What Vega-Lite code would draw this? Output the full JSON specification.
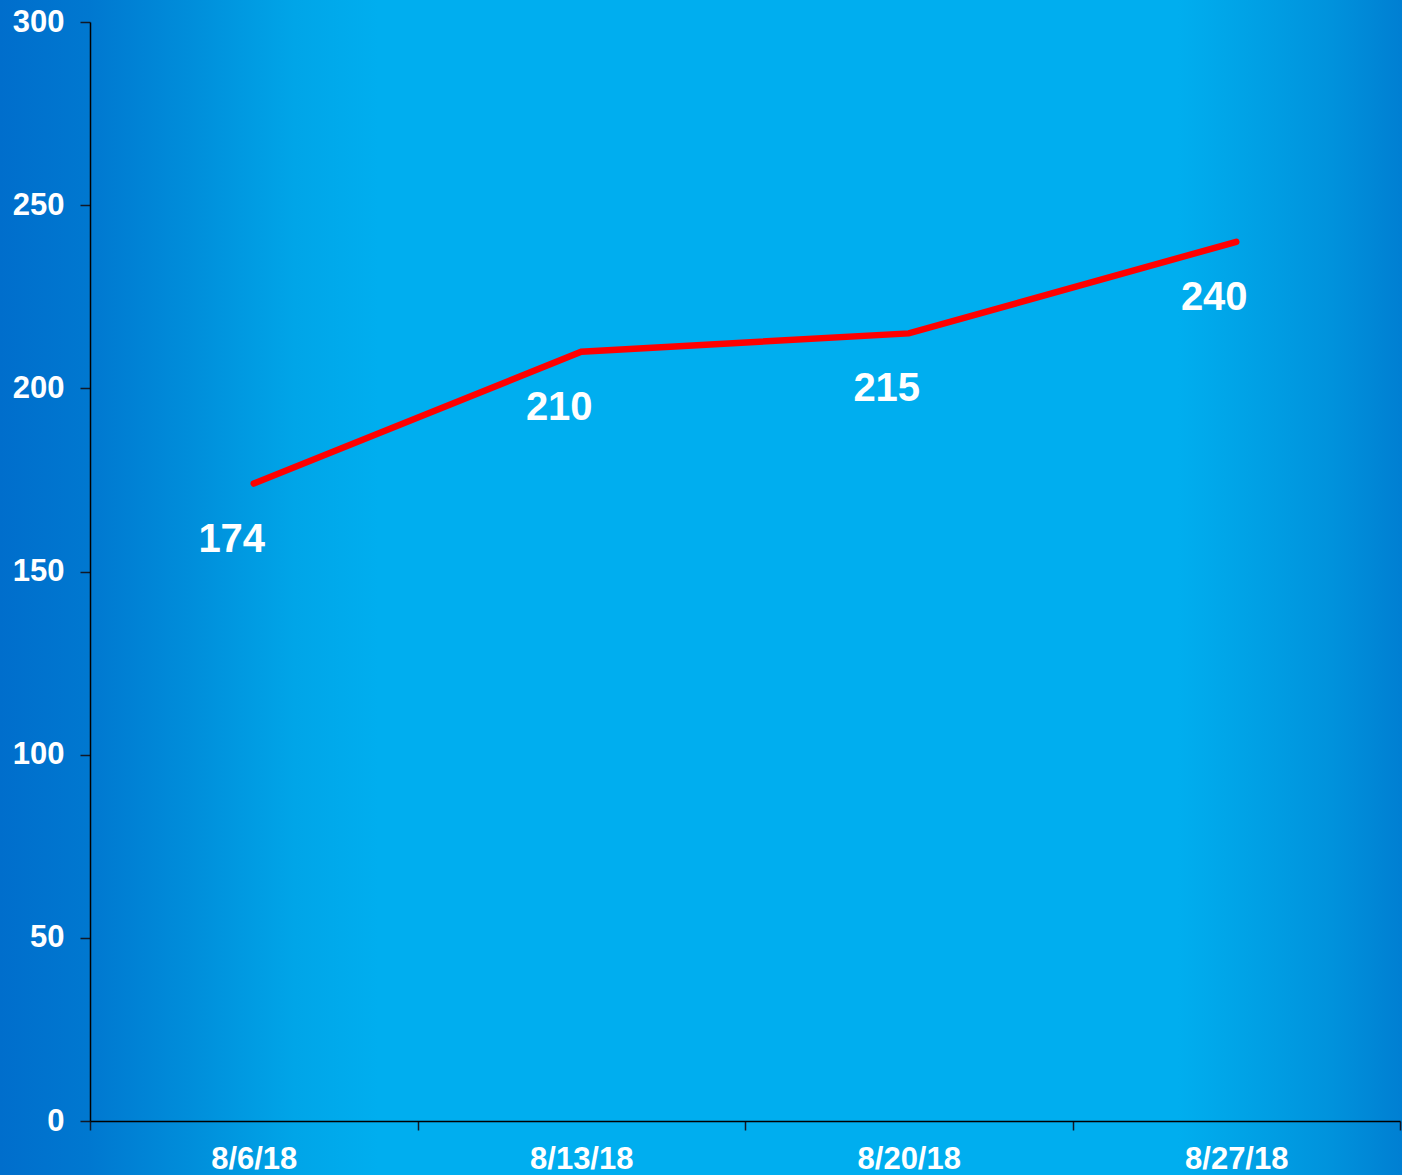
{
  "$schema": "https://vega.github.io/schema/vega-lite/v6.json",
  "width": 1402,
  "height": 1175,
  "autosize": {"type": "none"},
  "padding": 0,
  "background": "#0090dc",
  "config": {
    "view": {
      "stroke": null,
      "fill": {
        "gradient": "linear",
        "x1": 0, "y1": 0, "x2": 1, "y2": 0,
        "stops": [
          {"offset": 0, "color": "#006ecc"},
          {"offset": 0.064, "color": "#0078d0"},
          {"offset": 0.14, "color": "#008fdb"},
          {"offset": 0.21, "color": "#00a5e8"},
          {"offset": 0.27, "color": "#00aeef"},
          {"offset": 0.84, "color": "#00aeef"},
          {"offset": 0.89, "color": "#00a2e6"},
          {"offset": 0.95, "color": "#0092dc"},
          {"offset": 1, "color": "#007fd2"}
        ]
      }
    },
    "font": "Liberation Sans"
  },
  "data": {
    "values": [
      {"date": "8/6/18", "value": 174},
      {"date": "8/13/18", "value": 210},
      {"date": "8/20/18", "value": 215},
      {"date": "8/27/18", "value": 240}
    ]
  },
  "encoding": {
    "x": {
      "field": "date",
      "type": "ordinal",
      "sort": null,
      "scale": {"paddingInner": 0, "paddingOuter": 0, "range": [90, 1400]},
      "axis": {
        "title": null,
        "offset": -54,
        "labelAngle": 0,
        "labelFont": "Liberation Sans",
        "labelFontSize": 31,
        "labelFontWeight": "bold",
        "labelColor": "white",
        "labelPadding": 14,
        "tickBand": "extent",
        "tickSize": 9,
        "tickColor": "#111827",
        "tickWidth": 1.5,
        "domainColor": "#000000",
        "domainWidth": 1.5,
        "grid": false
      }
    },
    "y": {
      "field": "value",
      "type": "quantitative",
      "scale": {"domain": [0, 300], "nice": false, "range": [1121, 22]},
      "axis": {
        "title": null,
        "offset": -90,
        "values": [0, 50, 100, 150, 200, 250, 300],
        "labelFont": "Liberation Sans",
        "labelFontSize": 31,
        "labelFontWeight": "bold",
        "labelColor": "white",
        "labelPadding": 16,
        "tickSize": 10,
        "tickColor": "#111827",
        "tickWidth": 1.5,
        "domainColor": "#000000",
        "domainWidth": 1.5,
        "grid": false
      }
    }
  },
  "layer": [
    {
      "mark": {"type": "line", "color": "#ff0000", "strokeWidth": 6.5, "strokeCap": "round", "strokeJoin": "miter"}
    },
    {
      "mark": {
        "type": "text",
        "color": "white",
        "font": "Liberation Sans",
        "fontSize": 40,
        "fontWeight": "bold",
        "dx": -22,
        "dy": 56,
        "baseline": "middle",
        "align": "center"
      },
      "encoding": {"text": {"field": "value", "type": "quantitative"}}
    }
  ]
}
